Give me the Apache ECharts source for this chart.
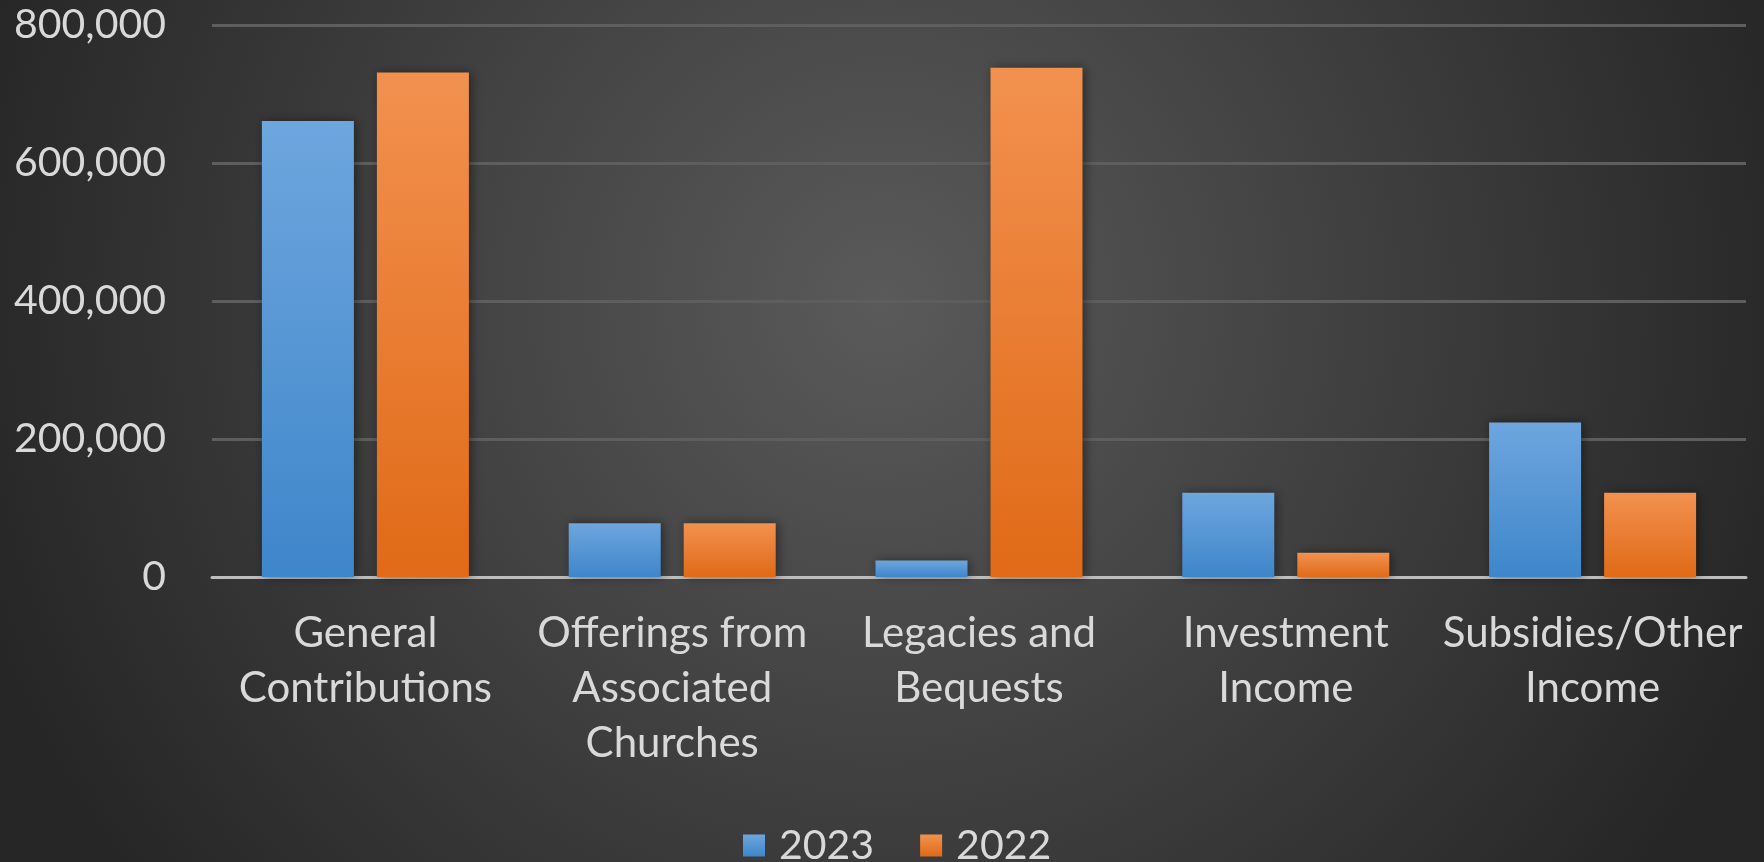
<!DOCTYPE html>
<html>
<head>
<meta charset="utf-8">
<script src="https://cdn.jsdelivr.net/npm/echarts@6/dist/echarts.min.js"></script>
<style>
html,body{margin:0;padding:0;background:#2c2c2c;}
#chart{width:1764px;height:862px;}
</style>
</head>
<body>
<div id="chart"></div>
<script>
var categories = ['General\nContributions', 'Offerings from\nAssociated\nChurches', 'Legacies and\nBequests', 'Investment\nIncome', 'Subsidies/Other\nIncome'];
var seriesNames = ['2023', '2022'];
var values2023 = [661000, 78000, 24000, 122000, 224000];
var values2022 = [731000, 78000, 738000, 35000, 122000];
var yTicks = [0, 200000, 400000, 600000, 800000];

var txt = '#d9d9d9';
var font = 'Lato';

function grad(top, bottom) {
  return new echarts.graphic.LinearGradient(0, 0, 0, 1, [
    {offset: 0, color: top}, {offset: 1, color: bottom}
  ]);
}

var chart = echarts.init(document.getElementById('chart'));
chart.setOption({
  backgroundColor: {
    type: 'radial', x: 0.5, y: 0.35, r: 1.1,
    colorStops: [
      {offset: 0, color: '#5a5a5a'},
      {offset: 1, color: '#262626'}
    ]
  },
  animation: false,
  legend: {
    left: 738, top: 820,
    itemWidth: 22, itemHeight: 22, itemGap: 46,
    icon: 'rect',
    textStyle: {color: txt, fontSize: 41, fontFamily: font, padding: [0, 0, 0, 9]},
    data: seriesNames
  },
  grid: {left: 212, right: 18, top: 25, bottom: 285, containLabel: false},
  xAxis: {
    type: 'category',
    data: categories,
    axisLine: {lineStyle: {color: '#bdbdbd', width: 3}},
    axisTick: {show: false},
    axisLabel: {color: txt, fontSize: 42, fontFamily: font, lineHeight: 55, margin: 29, interval: 0}
  },
  yAxis: {
    type: 'value',
    min: yTicks[0], max: yTicks[yTicks.length - 1], interval: 200000,
    axisLine: {show: false},
    axisTick: {show: false},
    splitLine: {lineStyle: {color: '#5e5e5e', width: 3}},
    axisLabel: {
      color: txt, fontSize: 41, fontFamily: font, margin: 46,
      formatter: function (v) { return v.toLocaleString('en-US'); }
    }
  },
  series: [
    {
      name: seriesNames[0], type: 'bar', data: values2023,
      barWidth: 92, barGap: '25%',
      itemStyle: {color: grad('#6ea6de', '#3e86ca'), shadowBlur: 10, shadowColor: 'rgba(0,0,0,0.45)', shadowOffsetX: 2}
    },
    {
      name: seriesNames[1], type: 'bar', data: values2022,
      barWidth: 92,
      itemStyle: {color: grad('#f2914f', '#e06a17'), shadowBlur: 10, shadowColor: 'rgba(0,0,0,0.45)', shadowOffsetX: 2}
    }
  ]
});
</script>
</body>
</html>
